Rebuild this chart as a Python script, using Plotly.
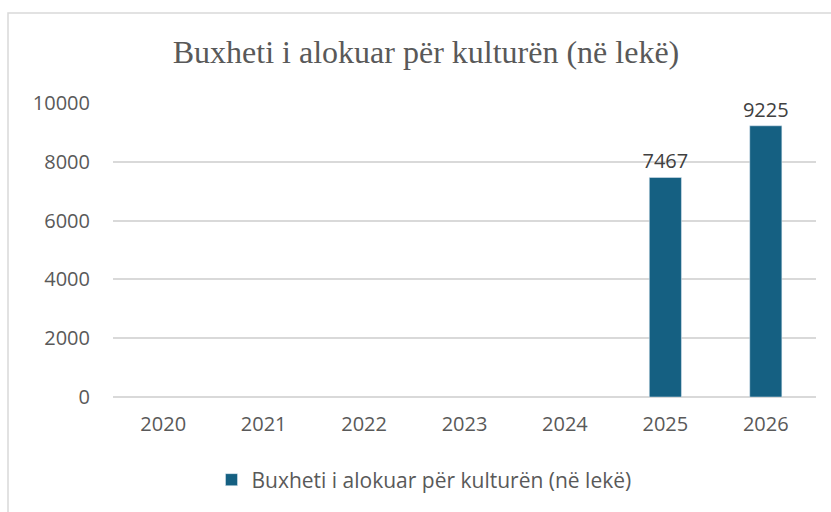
import plotly.graph_objects as go

# Annual culture budget (in lekë)
years = ["2020", "2021", "2022", "2023", "2024", "2025", "2026"]
budget = [None, None, None, None, None, 7467, 9225]
series_name = "Buxheti i alokuar për kulturën (në lekë)"
title_text = "Buxheti i alokuar për kulturën (në lekë)"
y_ticks = [0, 2000, 4000, 6000, 8000, 10000]
y_tick_labels = [str(v) for v in y_ticks]

W, H = 831, 512
ML, MR, MT, MB = 113, 15, 103, 115
SANS = "Open Sans, Roboto, sans-serif"

fig = go.Figure()
fig.add_trace(go.Bar(
    x=years,
    y=budget,
    name=series_name,
    marker=dict(color="#156082"),
    text=[("" if v is None else str(v)) for v in budget],
    textposition="outside",
    constraintext="none",
    textfont=dict(family=SANS, size=20, color="#404040"),
    cliponaxis=False,
    showlegend=True,
))

# outer chart frame
pw = W - ML - MR
ph = H - MT - MB
fig.add_shape(
    type="rect", xref="paper", yref="paper",
    x0=(8 - ML) / pw, x1=(W + 5 - ML) / pw,
    y0=-(MB + 5) / ph, y1=1 + (MT - 13) / ph,
    line=dict(color="#d9d9d9", width=1.5), fillcolor="rgba(0,0,0,0)",
)

fig.update_layout(
    width=W, height=H,
    margin=dict(l=ML, r=MR, t=MT, b=MB),
    paper_bgcolor="white",
    plot_bgcolor="white",
    bargap=0.68,
    title=dict(
        text=title_text,
        x=426 / W, xanchor="center",
        y=1 - 52 / H, yanchor="middle",
        font=dict(family="Liberation Serif, Times New Roman, serif", size=32, color="#595959"),
    ),
    xaxis=dict(
        showgrid=False, showline=False, zeroline=False,
        ticks="", tickfont=dict(family=SANS, size=20, color="#595959"),
        ticklabelstandoff=13,
    ),
    yaxis=dict(
        range=[0, 10000],
        tickvals=y_ticks,
        ticktext=y_tick_labels,
        showgrid=True, gridcolor="#d9d9d9", gridwidth=1.5,
        zeroline=True, zerolinecolor="#d9d9d9", zerolinewidth=1.5,
        showline=False, ticks="",
        tickfont=dict(family=SANS, size=20, color="#595959"),
        ticklabelstandoff=22,
    ),
    legend=dict(
        orientation="h",
        x=(424 - ML) / pw, xanchor="center",
        y=-(480 - (H - MB)) / ph, yanchor="middle",
        font=dict(family=SANS, size=21, color="#595959"),
        itemwidth=30,
    ),
)

fig.write_html("out.html")
